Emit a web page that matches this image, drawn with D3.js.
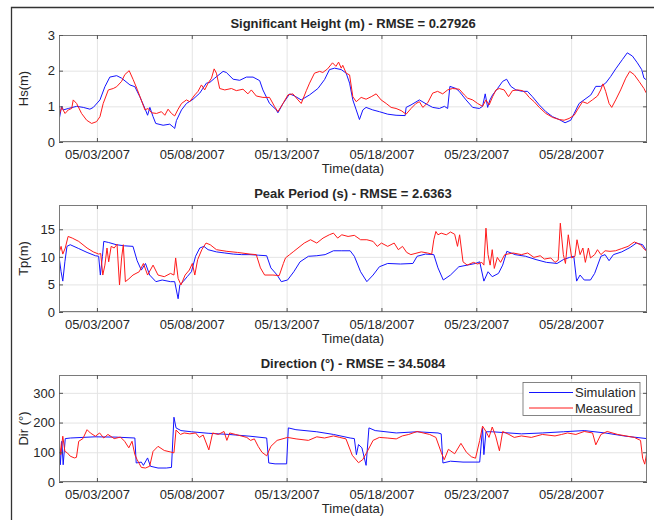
<!DOCTYPE html>
<html>
<head>
<meta charset="utf-8">
<script src="https://cdn.jsdelivr.net/npm/d3@7"></script>
<style>
body { margin: 0; background: #fff; }
text { font-family: Arial, "Liberation Sans", sans-serif; fill: #262626; }
</style>
</head>
<body>
<svg id="fig"></svg>
<script>
// values: [days since 05/01/2007 00:00, value]
let hsSim = [[0,0.61],[0.14,1.0],[0.23,0.9],[0.49,0.94],[0.93,1.0],[1.28,0.97],[1.63,0.92],[1.81,0.97],[2.16,1.18],[2.42,1.55],[2.68,1.82],[3.04,1.86],[3.3,1.79],[3.74,1.6],[4.0,1.55],[4.26,1.27],[4.53,0.94],[4.67,0.75],[4.79,0.97],[4.96,0.71],[5.1,0.52],[5.49,0.47],[5.84,0.5],[6.02,0.42],[6.1,0.38],[6.19,0.6],[6.46,0.9],[6.72,1.08],[7.07,1.2],[7.42,1.37],[7.77,1.65],[7.95,1.67],[8.21,1.79],[8.65,1.98],[8.82,1.95],[9.18,1.76],[9.53,1.73],[9.88,1.82],[10.23,1.82],[10.58,1.72],[10.75,1.46],[11.1,1.08],[11.46,0.9],[11.54,0.82],[11.81,1.08],[12.16,1.35],[12.42,1.29],[12.77,1.18],[13.21,1.32],[13.65,1.5],[14.0,1.75],[14.26,2.03],[14.53,2.07],[14.88,2.03],[15.14,1.93],[15.32,1.65],[15.49,1.18],[15.67,0.9],[15.84,0.63],[16.02,0.9],[16.19,0.97],[16.54,0.9],[16.89,0.85],[17.33,0.78],[17.77,0.75],[18.25,0.74],[18.3,0.97],[18.56,1.04],[19.0,1.18],[19.35,1.07],[19.7,0.97],[20.05,0.94],[20.32,1.0],[20.49,0.94],[20.61,1.56],[20.93,1.5],[21.1,1.42],[21.46,1.18],[21.81,0.97],[22.16,0.94],[22.33,1.0],[22.47,1.35],[22.6,0.97],[22.72,1.18],[22.86,1.32],[23.12,1.5],[23.39,1.7],[23.6,1.76],[23.82,1.56],[24.09,1.46],[24.44,1.42],[24.7,1.42],[24.96,1.27],[25.32,1.04],[25.67,0.85],[26.02,0.71],[26.37,0.63],[26.68,0.54],[26.98,0.61],[27.16,0.8],[27.42,1.08],[27.68,1.18],[28.04,1.32],[28.3,1.56],[28.56,1.56],[28.82,1.65],[29.09,1.84],[29.35,2.05],[29.7,2.31],[29.96,2.5],[30.23,2.41],[30.49,2.22],[30.72,2.03],[30.84,1.79],[30.95,1.75]];
let hsMeas = [[0,0.75],[0.14,0.97],[0.32,0.8],[0.49,0.9],[0.67,0.94],[0.75,1.18],[0.93,1.08],[1.19,0.8],[1.46,0.61],[1.72,0.52],[1.98,0.57],[2.16,0.71],[2.33,1.08],[2.6,1.46],[2.86,1.5],[3.04,1.55],[3.3,1.7],[3.47,1.89],[3.7,2.0],[3.91,1.75],[4.12,1.48],[4.3,1.23],[4.53,0.9],[4.7,0.94],[4.88,0.82],[5.14,0.8],[5.4,0.85],[5.58,0.75],[5.75,0.92],[5.93,0.8],[6.1,0.73],[6.28,0.92],[6.46,1.08],[6.72,1.18],[6.89,1.13],[7.16,1.32],[7.33,1.42],[7.51,1.6],[7.68,1.46],[7.86,1.65],[8.04,1.79],[8.18,2.05],[8.3,1.93],[8.47,1.5],[8.74,1.46],[9.09,1.5],[9.35,1.44],[9.7,1.48],[9.96,1.35],[10.14,1.46],[10.4,1.29],[10.75,1.25],[11.1,1.25],[11.37,0.99],[11.54,0.85],[11.81,1.08],[12.07,1.32],[12.33,1.35],[12.6,1.18],[12.77,1.08],[13.04,1.44],[13.21,1.65],[13.47,1.93],[13.74,1.98],[13.91,1.95],[14.16,2.05],[14.42,2.22],[14.6,2.12],[14.74,2.24],[14.88,2.07],[14.96,2.15],[15.14,1.93],[15.32,1.88],[15.49,1.27],[15.67,1.13],[15.93,1.25],[16.19,1.2],[16.46,1.27],[16.72,1.35],[16.98,1.18],[17.25,1.08],[17.51,0.97],[17.77,0.94],[18.04,0.88],[18.3,0.78],[18.56,0.94],[18.82,1.08],[19.0,1.13],[19.18,0.97],[19.44,1.1],[19.7,1.37],[19.96,1.42],[20.23,1.35],[20.49,1.46],[20.75,1.5],[21.1,1.48],[21.37,1.32],[21.54,1.23],[21.81,1.18],[22.07,1.08],[22.33,1.0],[22.51,1.18],[22.68,1.04],[22.86,1.27],[23.04,1.46],[23.21,1.5],[23.47,1.46],[23.7,1.27],[23.91,1.44],[24.18,1.46],[24.44,1.44],[24.61,1.37],[24.79,1.25],[25.05,1.13],[25.32,0.97],[25.67,0.8],[26.02,0.69],[26.37,0.63],[26.63,0.61],[26.89,0.66],[27.16,0.75],[27.33,0.9],[27.6,1.13],[27.86,1.08],[28.12,1.18],[28.39,1.29],[28.56,1.46],[28.68,1.63],[28.82,1.42],[29.0,1.08],[29.14,0.97],[29.35,1.18],[29.61,1.46],[29.88,1.79],[30.09,1.98],[30.32,1.89],[30.58,1.7],[30.84,1.5],[30.95,1.38]];

let tpSim = [[0,10.1],[0.11,7.3],[0.2,5.6],[0.31,9.1],[0.42,11.9],[0.59,12.2],[1.04,11.5],[1.48,10.8],[1.92,10.2],[2.09,10.1],[2.18,6.7],[2.29,10.1],[2.36,12.8],[2.62,12.6],[3.02,12.2],[3.46,12.0],[3.9,11.9],[4.12,9.3],[4.34,7.6],[4.56,8.8],[4.78,6.7],[5.11,5.5],[5.44,5.8],[5.88,5.5],[6.1,5.5],[6.28,2.4],[6.37,4.9],[6.54,5.5],[6.76,6.4],[6.98,7.3],[7.2,10.1],[7.42,11.6],[7.64,11.9],[7.86,11.3],[8.3,10.9],[8.74,10.7],[9.19,10.5],[9.63,10.4],[10.07,10.4],[10.51,10.3],[10.95,10.2],[11.17,8.0],[11.5,6.7],[11.72,5.5],[12.05,5.8],[12.38,7.3],[12.71,9.1],[13.15,10.1],[13.59,10.2],[14.03,10.4],[14.47,11.1],[14.91,11.1],[15.35,11.1],[15.57,10.1],[15.9,7.3],[16.23,5.5],[16.56,6.7],[16.89,8.2],[17.33,8.8],[18.0,8.7],[18.66,8.8],[18.88,10.1],[19.32,10.5],[19.76,10.4],[19.98,8.0],[20.26,5.8],[20.64,6.7],[21.08,8.2],[21.52,8.5],[21.96,8.8],[22.18,9.1],[22.4,5.6],[22.62,7.3],[22.84,6.4],[23.17,7.0],[23.39,8.5],[23.61,11.0],[24.05,10.4],[24.6,10.1],[25.15,9.5],[25.7,9.0],[26.26,8.8],[26.59,9.5],[26.92,9.9],[27.14,10.1],[27.29,5.6],[27.47,6.7],[27.69,5.8],[28.02,5.8],[28.24,7.0],[28.57,10.1],[28.79,10.4],[29.0,9.3],[29.23,10.4],[29.67,10.9],[30.11,11.7],[30.44,12.5],[30.77,12.2],[30.99,11.0]];
let tpMeas = [[0,10.7],[0.11,11.9],[0.2,10.5],[0.33,11.6],[0.48,13.7],[0.7,13.4],[1.04,12.8],[1.48,11.6],[1.81,10.9],[2.09,10.5],[2.2,10.6],[2.31,6.7],[2.42,8.5],[2.53,11.6],[2.62,9.1],[2.75,11.9],[2.91,11.6],[3.06,12.3],[3.19,4.9],[3.3,9.8],[3.39,12.2],[3.5,5.5],[3.68,6.0],[3.9,6.7],[4.23,7.3],[4.45,8.8],[4.67,6.7],[4.96,8.5],[5.22,6.7],[5.55,6.4],[5.88,7.0],[6.06,6.7],[6.15,9.8],[6.28,6.1],[6.43,4.9],[6.65,6.7],[6.87,7.6],[7.03,8.8],[7.16,6.7],[7.31,9.5],[7.53,11.3],[7.75,12.5],[7.97,12.2],[8.3,11.3],[8.85,11.0],[9.41,10.8],[10.07,10.5],[10.4,10.4],[10.62,8.0],[10.84,6.7],[11.28,6.7],[11.61,6.6],[11.83,8.8],[11.94,9.8],[12.16,10.4],[12.38,11.0],[12.6,11.6],[12.93,12.5],[13.26,13.1],[13.59,12.5],[13.92,13.4],[14.25,14.0],[14.47,14.3],[14.69,13.4],[14.91,14.0],[15.24,13.7],[15.57,13.9],[15.9,13.1],[16.23,13.1],[16.56,12.8],[16.78,11.9],[17.0,12.5],[17.33,11.9],[17.67,12.5],[17.89,11.3],[18.11,11.9],[18.33,10.8],[18.55,10.4],[18.77,10.6],[19.1,10.9],[19.43,10.7],[19.65,10.5],[19.76,13.1],[19.87,14.6],[19.98,14.0],[20.15,14.3],[20.42,14.0],[20.64,14.5],[20.86,14.1],[21.01,11.9],[21.12,14.0],[21.3,9.1],[21.52,8.5],[21.85,9.0],[22.07,8.7],[22.29,9.0],[22.4,8.5],[22.51,15.2],[22.62,10.4],[22.73,8.5],[22.84,11.3],[22.95,7.9],[23.11,9.9],[23.28,9.0],[23.5,10.4],[23.94,10.7],[24.38,10.4],[24.71,10.7],[25.04,9.9],[25.37,10.2],[25.59,9.6],[25.93,9.8],[26.15,9.0],[26.32,9.4],[26.43,16.1],[26.59,10.4],[26.7,8.8],[26.85,14.0],[27.03,9.8],[27.2,10.1],[27.31,13.1],[27.47,10.4],[27.62,11.6],[27.75,9.0],[27.91,11.6],[28.02,9.8],[28.24,10.4],[28.39,11.3],[28.57,10.4],[28.79,11.1],[29.05,11.0],[29.34,11.1],[29.67,11.5],[30.0,11.9],[30.33,12.7],[30.66,12.2],[30.88,11.3],[30.99,11.1]];

let dirSim = [[0,151],[0.07,58],[0.15,137],[0.22,58],[0.33,146],[0.6,148],[1.9,152],[3.0,151],[4.0,148],[4.07,64],[4.34,67],[4.45,56],[4.67,81],[4.82,53],[5.22,47],[5.66,47],[5.93,49],[6.06,218],[6.17,182],[6.43,173],[6.98,169],[7.86,164],[8.96,160],[10.07,154],[10.95,148],[11.06,64],[11.39,61],[12.0,61],[12.09,182],[12.49,176],[13.59,169],[14.47,160],[15.35,148],[15.57,146],[15.68,92],[15.79,126],[15.97,115],[16.19,56],[16.34,182],[16.67,173],[17.78,165],[18.88,169],[19.98,165],[20.15,162],[20.24,64],[20.64,70],[21.3,67],[22.18,67],[22.33,182],[22.4,92],[22.51,169],[22.84,169],[24.38,162],[25.48,165],[26.59,169],[27.69,173],[28.79,165],[29.89,154],[30.99,146]];
let dirMeas = [[0,154],[0.09,92],[0.2,154],[0.31,103],[0.44,98],[0.59,87],[0.81,81],[0.92,83],[1.04,137],[1.26,146],[1.48,176],[1.65,165],[1.92,154],[2.14,165],[2.36,148],[2.58,160],[2.91,146],[3.24,151],[3.46,137],[3.68,115],[3.85,137],[4.0,92],[4.12,75],[4.34,49],[4.56,47],[4.78,53],[4.96,103],[5.22,120],[5.55,106],[5.88,101],[6.06,98],[6.17,175],[6.4,160],[6.6,165],[6.9,162],[7.2,165],[7.4,150],[7.6,158],[7.9,108],[8.1,165],[8.4,160],[8.7,170],[8.85,140],[9.0,165],[9.3,160],[9.6,155],[9.9,150],[10.1,140],[10.3,145],[10.5,120],[10.7,100],[10.95,88],[11.17,120],[11.5,140],[12.05,150],[12.5,145],[13.15,140],[13.59,152],[14.0,148],[14.47,155],[14.8,150],[15.13,145],[15.46,90],[15.79,65],[16.01,75],[16.23,100],[16.56,140],[16.89,150],[17.3,148],[17.78,145],[18.1,155],[18.44,160],[18.88,170],[19.2,165],[19.54,160],[19.87,150],[20.15,100],[20.31,75],[20.53,110],[20.86,95],[21.19,130],[21.48,100],[21.74,85],[21.96,80],[22.18,140],[22.33,188],[22.51,170],[22.67,150],[22.84,185],[23.02,155],[23.22,105],[23.39,170],[23.72,160],[24.0,150],[24.38,155],[24.9,150],[25.48,160],[26.15,155],[26.5,160],[26.81,165],[27.25,160],[27.69,170],[28.13,165],[28.3,125],[28.57,160],[28.9,170],[29.45,160],[29.89,155],[30.33,150],[30.66,140],[30.77,80],[30.88,60],[30.99,100]];

let xTickLabels = ["05/03/2007", "05/08/2007", "05/13/2007", "05/18/2007", "05/23/2007", "05/28/2007"];
let hsTicks = [0, 1, 2, 3];
let tpTicks = [0, 5, 10, 15];
let dirTicks = [0, 100, 200, 300];
let yMaxes = [3, 19.4, 360];
let titles = ["Significant Height (m) - RMSE = 0.27926", "Peak Period (s) - RMSE = 2.6363", "Direction (°) - RMSE = 34.5084"];
let yLabels = ["Hs(m)", "Tp(m)", "Dir (°)"];
let seriesNames = ["Simulation", "Measured"];

//layout
let w = 654, h = 520;
let left = 59, right = 647, panelH = 107;
let tops = [35, 205, 375];
let colors = ["#1414ff", "#ff1a1a"];

let svg = d3.select("#fig").attr("width", w).attr("height", h);

let parseDay = d3.timeParse("%m/%d/%Y");
let fmtDay = d3.timeFormat("%m/%d/%Y");
let start = new Date(2007, 4, 1), end = new Date(2007, 5, 1);
let toDate = d => d3.timeMinute.offset(start, Math.round(d * 1440));

let xScale = d3.scaleTime().domain([start, end]).range([left, right]);
let xTicks = xTickLabels.map(parseDay);

// outer figure frame
svg.append("path")
    .attr("d", "M11.5,520V7.5H654")
    .attr("fill", "none")
    .attr("stroke", "#333")
    .attr("stroke-width", 1.3);

let panels = [
    {ticks: hsTicks, series: [hsSim, hsMeas]},
    {ticks: tpTicks, series: [tpSim, tpMeas]},
    {ticks: dirTicks, series: [dirSim, dirMeas]}
];

panels.forEach(function (p, i) {
    let top = tops[i], bottom = top + panelH;
    let yScale = d3.scaleLinear().domain([0, yMaxes[i]]).range([bottom, top]);
    let g = svg.append("g");

    // grid
    g.append("g")
        .attr("transform", "translate(0," + bottom + ")")
        .call(d3.axisBottom(xScale).tickValues(xTicks).tickSize(-panelH).tickFormat(""))
        .call(a => a.select(".domain").remove())
        .selectAll("line").attr("stroke", "#e4e4e4");
    g.append("g")
        .attr("transform", "translate(" + left + ",0)")
        .call(d3.axisLeft(yScale).tickValues(p.ticks).tickSize(-(right - left)).tickFormat(""))
        .call(a => a.select(".domain").remove())
        .selectAll("line").attr("stroke", "#e4e4e4");

    // lines
    svg.append("clipPath").attr("id", "clip" + i)
        .append("rect").attr("x", left).attr("y", top).attr("width", right - left).attr("height", panelH);
    let line = d3.line()
        .x(d => xScale(toDate(d[0])))
        .y(d => yScale(d[1]));
    p.series.forEach(function (s, k) {
        g.append("path")
            .datum(s)
            .attr("clip-path", "url(#clip" + i + ")")
            .attr("fill", "none")
            .attr("stroke", colors[k])
            .attr("stroke-width", 1)
            .attr("stroke-linejoin", "round")
            .attr("d", line);
    });

    // box
    g.append("rect")
        .attr("x", left + 0.5).attr("y", top + 0.5)
        .attr("width", right - left - 1).attr("height", panelH - 1)
        .attr("fill", "none").attr("stroke", "#7a7a7a");

    // ticks and labels
    let style = a => {
        a.select(".domain").remove();
        a.selectAll("line").attr("stroke", "#555");
        a.selectAll("text").attr("font-size", 13).attr("font-family", "Arial, 'Liberation Sans', sans-serif").attr("fill", "#262626");
    };
    g.append("g")
        .attr("transform", "translate(0," + bottom + ")")
        .call(d3.axisBottom(xScale).tickValues(xTicks).tickSize(-4).tickPadding(8).tickFormat(fmtDay))
        .call(style);
    g.append("g")
        .attr("transform", "translate(0," + top + ")")
        .call(d3.axisTop(xScale).tickValues(xTicks).tickSize(-4).tickFormat(""))
        .call(style);
    g.append("g")
        .attr("transform", "translate(" + left + ",0)")
        .call(d3.axisLeft(yScale).tickValues(p.ticks).tickSize(-4).tickPadding(4).tickFormat(d3.format("d")))
        .call(style);
    g.append("g")
        .attr("transform", "translate(" + right + ",0)")
        .call(d3.axisRight(yScale).tickValues(p.ticks).tickSize(-4).tickFormat(""))
        .call(style);

    g.append("text")
        .attr("x", (left + right) / 2).attr("y", top - 7)
        .attr("text-anchor", "middle")
        .attr("font-size", 13).attr("font-weight", "bold")
        .text(titles[i]);

    g.append("text")
        .attr("x", (left + right) / 2).attr("y", bottom + 31)
        .attr("text-anchor", "middle")
        .attr("font-size", 13)
        .text("Time(data)");

    g.append("text")
        .attr("transform", "translate(28," + (top + bottom) / 2 + ") rotate(-90)")
        .attr("text-anchor", "middle")
        .attr("font-size", 13)
        .text(yLabels[i]);

    if (i == 2) {
        let lg = g.append("g").attr("transform", "translate(523," + (top + 7.5) + ")");
        lg.append("rect")
            .attr("width", 117).attr("height", 33)
            .attr("fill", "#fff").attr("stroke", "#666").attr("stroke-width", 0.8);
        seriesNames.forEach(function (n, k) {
            let yy = 10 + k * 15.5;
            lg.append("line")
                .attr("x1", 6).attr("x2", 50).attr("y1", yy).attr("y2", yy)
                .attr("stroke", colors[k]);
            lg.append("text")
                .attr("x", 52).attr("y", yy + 4.5)
                .attr("font-size", 13)
                .text(n);
        });
    }
});
</script>
</body>
</html>
